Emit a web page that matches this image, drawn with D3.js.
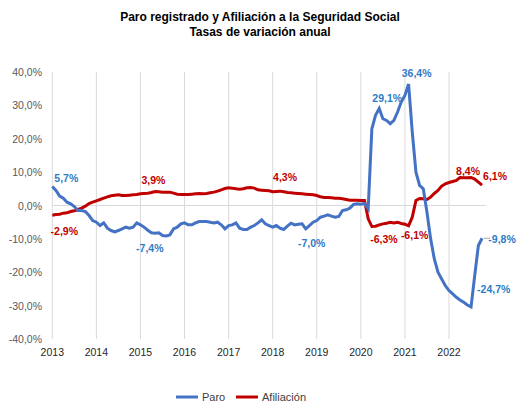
<!DOCTYPE html>
<html><head><meta charset="utf-8">
<script src="https://cdn.jsdelivr.net/npm/d3@7"></script>
<style>body{margin:0;background:#fff;font-family:"Liberation Sans",Arial,sans-serif}</style>
</head><body><div id="chart"></div>
<script>
// monthly series, Jan 2013 .. Oct 2022
const paro = [
  5.7, 4.5, 2.8, 2.2, 1.0, 0.5, -0.3, -1.5, -1.5, -1.8, -3.0, -4.5,
  -5.0, -6.0, -5.2, -6.8, -7.5, -7.9, -7.5, -7.0, -6.5, -6.8, -6.5, -5.2,
  -5.8, -6.5, -7.4, -8.2, -8.3, -8.2, -9.0, -9.1, -8.8, -7.0, -6.5, -5.5,
  -5.2, -5.8, -5.8, -5.2, -4.8, -4.8, -4.8, -5.0, -5.2, -5.0, -5.8, -7.0,
  -6.0, -5.8, -5.2, -6.8, -7.2, -7.2, -6.5, -6.0, -5.2, -4.3, -5.5, -6.0,
  -6.5, -6.0, -6.8, -7.2, -6.2, -5.3, -5.8, -5.6, -5.5, -7.0, -6.0, -5.0,
  -4.5, -3.5, -3.2, -2.8, -3.2, -3.5, -3.3, -1.5, -1.3, -0.8, 0.3, 0.5,
  0.4, 0.6, -1.0, 23.0, 27.0, 29.1, 26.0, 25.5, 24.5, 25.5, 28.0, 31.0,
  33.0, 36.4, 22.0, 10.0, 6.0, 5.0, -2.0, -10.0, -16.0, -20.0, -22.0, -24.0,
  -25.5, -26.5, -27.5, -28.3, -29.0, -29.8, -30.4, -21.0, -12.0, -9.8
];
const afiliacion = [
  -2.9, -2.7, -2.6, -2.3, -2.2, -1.8, -1.6, -1.2, -0.8, -0.2, 0.6, 1.0,
  1.4, 1.8, 2.2, 2.6, 2.9, 3.1, 3.2, 3.0, 3.0, 3.1, 3.2, 3.3,
  3.5, 3.6, 3.7, 3.9, 4.2, 4.1, 4.0, 4.0, 4.0, 3.7, 3.4, 3.3,
  3.3, 3.3, 3.4, 3.5, 3.6, 3.5, 3.6, 3.8, 4.0, 4.3, 4.7, 5.1,
  5.3, 5.2, 5.0, 4.9, 5.0, 5.3, 5.4, 5.2, 4.7, 4.6, 4.5, 4.4,
  4.1, 4.2, 4.3, 4.1, 3.9, 3.8, 3.7, 3.6, 3.5, 3.4, 3.3, 3.2,
  3.0, 2.6, 2.4, 2.4, 2.3, 2.2, 2.2, 2.0, 1.8, 1.6, 1.6, 1.6,
  1.5, 1.5, -4.0, -6.3, -6.2, -5.8, -5.5, -5.3, -5.0, -5.2, -5.0, -5.4,
  -5.6, -6.1, -3.5, 1.5, 2.1, 2.0, 1.8, 2.5, 3.6, 4.5, 5.8, 6.5,
  6.9, 7.2, 7.5, 8.4, 8.3, 8.3, 8.4, 7.9, 7.0, 6.1
];
const years = [2013, 2014, 2015, 2016, 2017, 2018, 2019, 2020, 2021, 2022];
const yTicks = [-40, -30, -20, -10, 0, 10, 20, 30, 40];
// labels: series, month index, text, offset
const labels = [
  ["p", 0, "5,7%", 14, -8], ["a", 0, "-2,9%", 12, 16],
  ["a", 27, "3,9%", 2, -12], ["p", 26, "-7,4%", 2, 18],
  ["a", 62, "4,3%", 5, -14], ["p", 69, "-7,0%", 6, 14],
  ["a", 87, "-6,3%", 12, 12], ["p", 89, "29,1%", 8, -10],
  ["p", 97, "36,4%", 8, -11], ["a", 97, "-6,1%", 6, 9],
  ["a", 114, "8,4%", -3, -6], ["a", 117, "6,1%", 13, -9],
  ["p", 115, "-24,7%", 19, 13], ["p", 117, "-9,8%", 20, 1]
];

const W = 520, H = 408;
const blue = "#4472C4", red = "#C00000", blueTxt = "#2E7CC6";
const svg = d3.select("#chart").append("svg").attr("width", W).attr("height", H);

const x = d3.scaleLinear().domain([2013, 2022]).range([52.3, 449]);
const y = d3.scaleLinear().domain([-40, 40]).range([339, 72]);
const xm = i => x(2013 + i / 12);

svg.append("text").attr("x", 260).attr("y", 21).attr("text-anchor", "middle")
  .attr("font-weight", "bold").attr("font-size", 12).text("Paro registrado y Afiliación a la Seguridad Social");
svg.append("text").attr("x", 260).attr("y", 36).attr("text-anchor", "middle")
  .attr("font-weight", "bold").attr("font-size", 12).text("Tasas de variación anual");

// vertical gridlines at years
svg.append("g").selectAll("line").data(years).enter().append("line")
  .attr("x1", d => x(d)).attr("x2", d => x(d)).attr("y1", y(40)).attr("y2", y(-40))
  .attr("stroke", "#d9d9d9");
svg.append("line").attr("x1", x(2013)).attr("x2", 486).attr("y1", y(0)).attr("y2", y(0)).attr("stroke", "#d9d9d9");

svg.append("g").selectAll("text").data(yTicks).enter().append("text")
  .attr("x", 42).attr("y", d => y(d) + 4).attr("text-anchor", "end")
  .attr("font-size", 10.5).attr("fill", "#595959")
  .text(d => d.toFixed(1).replace(".", ",") + "%");
svg.append("g").selectAll("text").data(years).enter().append("text")
  .attr("x", d => x(d)).attr("y", 356).attr("text-anchor", "middle")
  .attr("font-size", 10.5).attr("fill", "#262626").text(d => d);

const line = d3.line().x((d, i) => xm(i)).y(d => y(d));
svg.append("path").datum(afiliacion).attr("d", line).attr("fill", "none").attr("stroke", red).attr("stroke-width", 3);
svg.append("path").datum(paro).attr("d", line).attr("fill", "none").attr("stroke", blue).attr("stroke-width", 3);

// leader for -9,8%
svg.append("line").attr("x1", xm(117) + 2).attr("x2", xm(117) + 8)
  .attr("y1", y(paro[117])).attr("y2", y(paro[117])).attr("stroke", "#a6a6a6");

svg.append("g").selectAll("text").data(labels).enter().append("text")
  .attr("x", d => xm(d[1]) + d[3])
  .attr("y", d => y((d[0] === "p" ? paro : afiliacion)[d[1]]) + d[4] + 4)
  .attr("text-anchor", "middle").attr("font-size", 10.5).attr("font-weight", "bold")
  .attr("fill", d => d[0] === "p" ? blueTxt : red).text(d => d[2]);

// legend
const leg = [["Paro", blue, 176], ["Afiliación", red, 236]];
leg.forEach(([t, c, lx]) => {
  svg.append("line").attr("x1", lx).attr("x2", lx + 22).attr("y1", 397).attr("y2", 397).attr("stroke", c).attr("stroke-width", 3);
  svg.append("text").attr("x", lx + 26).attr("y", 401).attr("font-size", 11).attr("fill", "#404040").text(t);
});
</script></body></html>
